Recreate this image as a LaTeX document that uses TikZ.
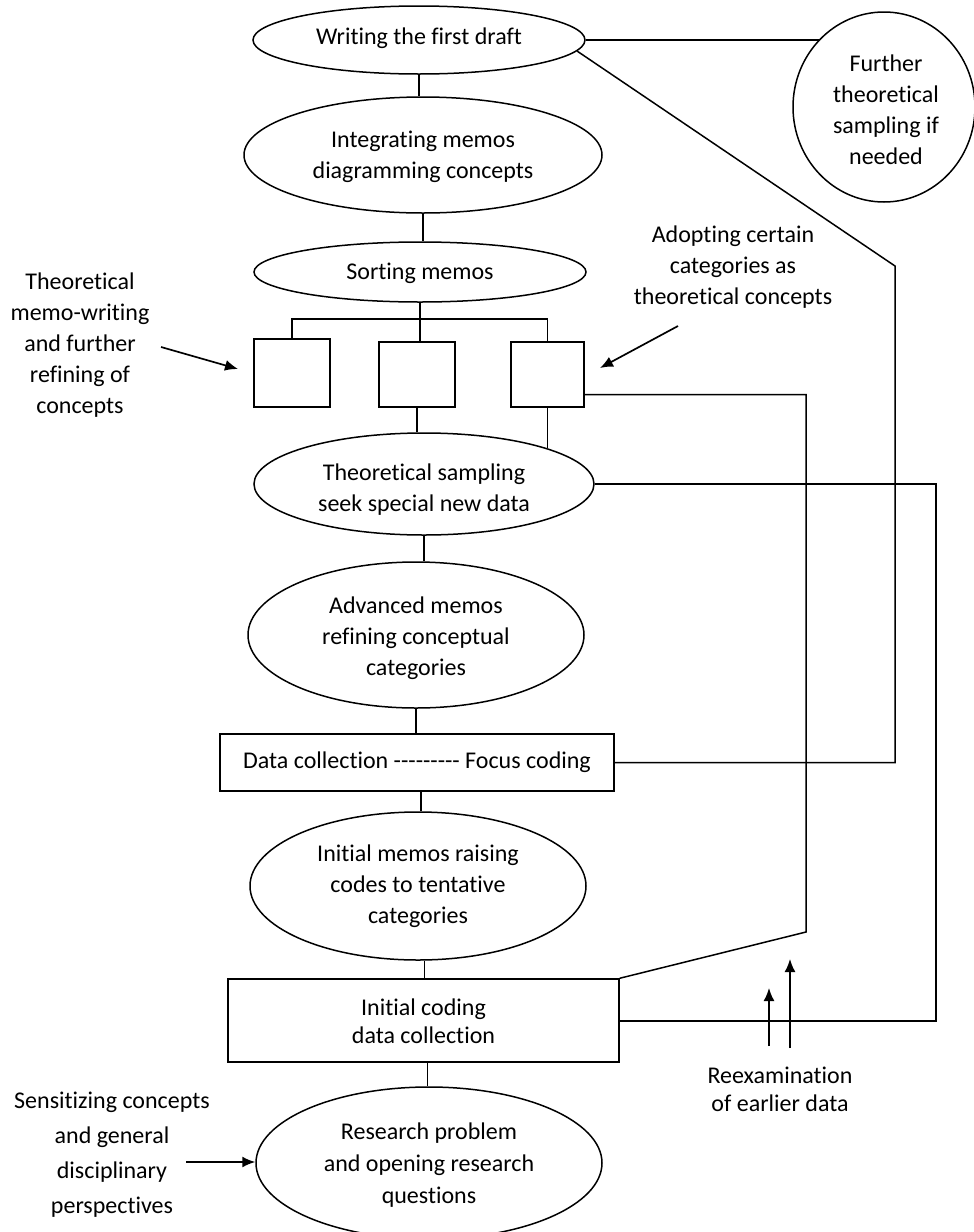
\documentclass[tikz,border=0pt]{standalone}
\usepackage{fontspec}
\setmainfont{Carlito}[Ligatures={NoCommon}]
\usetikzlibrary{shapes.geometric,arrows.meta}

% a run of plain hyphens, kept apart so that no dash ligature forms
\newcommand{\hyphenrun}{-{}-{}-{}-{}-{}-{}-{}-{}-}

\begin{document}
\begin{tikzpicture}[x=1pt,y=-1pt,
  line width=1.5pt,
  oval/.style={draw, ellipse, inner sep=0pt},
  boxnode/.style={draw, rectangle, inner sep=0pt},
  txt/.style={align=center, inner sep=0pt, font=\fontsize{24}{31}\selectfont},
  pointer/.style={-{Latex[length=13pt,width=11pt]}, line width=1.7pt}
]
\useasboundingbox (0,0) rectangle (974,1232);

% main column of stages
\node[oval, minimum width=332, minimum height=68]  (e1) at (419,40) {};
\node[txt] (t1) at (419,38) {Writing the first draft};

\node[oval, minimum width=182, minimum height=190] (circ) at (884,107) {};
\node[txt] (tc) at (886,110) {Further\\theoretical\\sampling if\\needed};

\node[oval, minimum width=358, minimum height=116] (e2) at (423,155) {};
\node[txt] (t2) at (423,157) {Integrating memos\\diagramming concepts};

\node[oval, minimum width=332, minimum height=60]  (e3) at (420,272) {};
\node[txt] (t3) at (420,273) {Sorting memos};

\node[boxnode, minimum width=76, minimum height=68] (b1) at (292,373) {};
\node[boxnode, minimum width=76, minimum height=65] (b2) at (417,374.5) {};
\node[boxnode, minimum width=73, minimum height=65] (b3) at (547.5,374.5) {};

\node[oval, minimum width=340, minimum height=102] (e4) at (424,484) {};
\node[txt] (t4) at (424,490) {Theoretical sampling\\seek special new data};

\node[oval, minimum width=336, minimum height=146] (e5) at (416,635) {};
\node[txt] (t5) at (416,638) {Advanced memos\\refining conceptual\\categories};

\node[boxnode, minimum width=394, minimum height=57] (dc) at (417,762.5) {};
\node[txt] (t6) at (417,762) {Data collection \hyphenrun\ Focus coding};

\node[oval, minimum width=336, minimum height=148] (e6) at (418,886) {};
\node[txt] (t7) at (418,886) {Initial memos raising\\codes to tentative\\categories};

\node[boxnode, minimum width=391, minimum height=83] (ic) at (423.5,1020.5) {};
\node[txt, font=\fontsize{24}{28}\selectfont] (t8) at (423.5,1021) {Initial coding\\data collection};

\node[oval, minimum width=346, minimum height=152] (e7) at (429,1163) {};
\node[txt, font=\fontsize{24}{32}\selectfont] (t9) at (429,1165) {Research problem\\and opening research\\questions};

% side notes
\node[txt] (nl) at (80,345) {Theoretical\\memo-writing\\and further\\refining of\\concepts};
\node[txt] (nr) at (733,267) {Adopting certain\\categories as\\theoretical concepts};
\node[txt, font=\fontsize{24}{35}\selectfont] (ns) at (112,1155) {Sensitizing concepts\\and general\\disciplinary\\perspectives};
\node[txt, font=\fontsize{24}{28}\selectfont] (nx) at (780,1089) {Reexamination\\of earlier data};

% vertical links down the column
\draw (e1.south) -- (e1.south |- e2.north);
\draw (e2.south) -- (e2.south |- e3.north);
\draw (e3.south) -- (e3.south |- b2.north);
\coordinate (bus) at (420,319);
\draw (b1.north) -- (b1.north |- bus) -- (b3.north |- bus) -- (b3.north);
\draw (b2.south) -- (b2.south |- e4.north);
\draw (b3.south) -- (b3.south |- e4.16);
\draw (e4.south) -- (e4.south |- e5.north);
\draw (e5.south) -- (e5.south |- dc.north);
\draw ([xshift=4pt]dc.south) -- ([xshift=4pt]dc.south |- e6.north);
\draw ([xshift=1pt]ic.north) -- ([xshift=1pt]ic.north |- e6.south);
\draw ([xshift=4pt]ic.south) -- ([xshift=4pt]ic.south |- e7.north);

% feedback loops on the right
\draw (e1.east) -- (e1.east -| circ.134);
\coordinate (d1) at (895,266);
\draw (e1.-4) -- (d1) -- (d1 |- dc.east) -- (dc.east);
\coordinate (d2) at (806,932);
\draw ([yshift=-20pt]b3.east) -- ([yshift=-20pt]b3.east -| d2) -- (d2) -- (ic.north east);
\coordinate (d3) at (936,1021);
\draw (e4.east) -- (e4.east -| d3) -- (d3) -- (d3 -| ic.east);

% pointers from the side notes
\coordinate (pl0) at (161,347);
\coordinate (pl1) at (238,369);
\draw[pointer] (pl0) -- (pl1);
\coordinate (pr0) at (678,326);
\coordinate (pr1) at (600,368);
\draw[pointer] (pr0) -- (pr1);
\coordinate (ps0) at (186,1162);
\draw[pointer] (ps0) -- (ps0 -| e7.west);
\coordinate (px0) at (769,1046);
\coordinate (px1) at (769,988);
\coordinate (py0) at (790,1048);
\coordinate (py1) at (790,959);
\draw[pointer] (px0) -- (px1);
\draw[pointer] (py0) -- (py1);
\end{tikzpicture}
\end{document}
